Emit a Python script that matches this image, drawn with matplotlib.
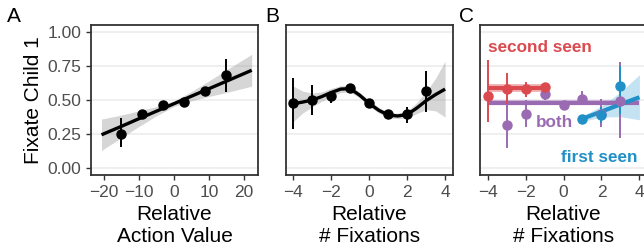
import matplotlib.pyplot as plt
import numpy as np

plt.rcParams['font.family'] = ['Liberation Sans', 'DejaVu Sans']

# A: relative action value
av_x = [-15, -9, -3, 3, 9, 15]
av_y = [0.25, 0.40, 0.465, 0.485, 0.565, 0.685]
av_lo = [0.155, 0.38, 0.45, 0.47, 0.545, 0.56]
av_hi = [0.37, 0.42, 0.48, 0.50, 0.585, 0.80]
av_fit_x = [-20.7, -15, -10, -5, 0, 5, 10, 15, 22.2]
av_fit_y = [0.245, 0.307, 0.363, 0.418, 0.473, 0.528, 0.583, 0.638, 0.718]
av_fit_lo = [0.130, 0.224, 0.306, 0.384, 0.453, 0.494, 0.526, 0.555, 0.601]
av_fit_hi = [0.360, 0.390, 0.420, 0.452, 0.493, 0.562, 0.640, 0.721, 0.835]

# B: relative number of fixations
fx_x = [-4, -3, -2, -1, 0, 1, 2, 3]
fx_y = [0.48, 0.50, 0.53, 0.586, 0.477, 0.395, 0.395, 0.564]
fx_lo = [0.29, 0.39, 0.48, 0.57, 0.465, 0.38, 0.334, 0.41]
fx_hi = [0.66, 0.61, 0.56, 0.60, 0.49, 0.41, 0.45, 0.714]
fx_fit_x = [-4, -3.5, -3, -2.5, -2, -1.5, -1, -0.5, 0, 0.5, 1, 1.5, 2, 2.5, 3, 3.5, 4]
fx_fit_y = [0.472, 0.485, 0.50, 0.525, 0.555, 0.58, 0.583, 0.535, 0.475, 0.425,
            0.39, 0.383, 0.393, 0.44, 0.495, 0.54, 0.58]
fx_fit_se = [0.13, 0.08, 0.05, 0.035, 0.03, 0.025, 0.025, 0.02, 0.02, 0.02,
             0.02, 0.02, 0.025, 0.04, 0.065, 0.12, 0.205]

# C: split by which child was seen
second_x = [-4, -3, -2, -1]
second_y = [0.53, 0.58, 0.58, 0.593]
second_lo = [0.34, 0.47, 0.525, 0.58]
second_hi = [0.79, 0.70, 0.63, 0.605]
second_fit_x = [-4, -1]
second_fit_y = [0.586, 0.586]
second_fit_se = [0.03, 0.03]

both_x = [-3, -2, -1, 0, 1, 2, 3]
both_y = [0.315, 0.395, 0.545, 0.465, 0.51, 0.395, 0.496]
both_lo = [0.145, 0.30, 0.50, 0.455, 0.46, 0.30, 0.218]
both_hi = [0.47, 0.50, 0.585, 0.475, 0.564, 0.51, 0.78]
both_fit_x = [-4, 4]
both_fit_y = [0.48, 0.48]
both_fit_se = [0.018, 0.018]

first_x = [1, 2, 3]
first_y = [0.363, 0.39, 0.60]
first_lo = [0.35, 0.33, 0.40]
first_hi = [0.375, 0.45, 0.75]
first_fit_x = [1, 2, 3, 4]
first_fit_y = [0.363, 0.415, 0.468, 0.52]
first_fit_se = [0.02, 0.04, 0.09, 0.165]

red = '#DB4A4F'
purple = '#9A6BB3'
blue = '#2190C6'
grid_c = '#EBEBEB'
dark = '#333333'

fig = plt.figure(figsize=(6.44, 2.5), dpi=100)
ax_w = 167 / 644
ax_h = 0.6
axA = fig.add_axes([91 / 644, 0.3, ax_w, ax_h])
axB = fig.add_axes([285.7 / 644, 0.3, ax_w, ax_h])
axC = fig.add_axes([480 / 644, 0.3, ax_w, ax_h])

for ax in (axA, axB, axC):
    ax.set_ylim(-0.05, 1.05)
    ax.set_yticks([0, 0.25, 0.5, 0.75, 1.0])
    for yv in [0, 0.25, 0.5, 0.75, 1.0]:
        ax.axhline(yv, color=grid_c, lw=1.1, zorder=0)
    for s in ax.spines.values():
        s.set_color(dark)
        s.set_linewidth(1.3)
    ax.tick_params(colors=dark, labelcolor='#4D4D4D', labelsize=12.5,
                   length=3.5, width=1.0)
    ax.set_xlabel('Relative\n# Fixations', fontsize=15, labelpad=4,
                  linespacing=1.2)


def draw_points(ax, x, y, lo, hi, c):
    ax.vlines(x, lo, hi, color=c, lw=1.4, zorder=4)
    ax.plot(x, y, 'o', color=c, ms=6.5, zorder=5)


def draw_fit(ax, x, y, lo, hi, c, fill, lw=2.4):
    ax.fill_between(x, lo, hi, color=fill, alpha=0.4, lw=0, zorder=2)
    ax.plot(x, y, color=c, lw=lw, zorder=3, solid_capstyle='butt')


# A
draw_fit(axA, av_fit_x, av_fit_y, av_fit_lo, av_fit_hi, 'black', '#999999')
draw_points(axA, av_x, av_y, av_lo, av_hi, 'black')
axA.set_xlim(-23.7, 24)
axA.set_xticks([-20, -10, 0, 10, 20])
axA.set_yticklabels(['0.00', '0.25', '0.50', '0.75', '1.00'])
axA.set_ylabel('Fixate Child 1', fontsize=15, labelpad=3)
axA.set_xlabel('Relative\nAction Value', fontsize=15, labelpad=4,
               linespacing=1.2)

# B
fy = np.array(fx_fit_y)
fs = np.array(fx_fit_se)
draw_fit(axB, fx_fit_x, fy, fy - fs, fy + fs, 'black', '#999999')
draw_points(axB, fx_x, fx_y, fx_lo, fx_hi, 'black')

# C
for fx_, fy_, fs_, c, fill in [
        (second_fit_x, second_fit_y, second_fit_se, red, red),
        (both_fit_x, both_fit_y, both_fit_se, purple, purple),
        (first_fit_x, first_fit_y, first_fit_se, blue, '#6BB8E0')]:
    fy_ = np.array(fy_)
    fs_ = np.array(fs_)
    draw_fit(axC, fx_, fy_, fy_ - fs_, fy_ + fs_, c, fill, lw=3.0)
draw_points(axC, both_x, both_y, both_lo, both_hi, purple)
draw_points(axC, second_x, second_y, second_lo, second_hi, red)
draw_points(axC, first_x, first_y, first_lo, first_hi, blue)
axC.text(-1.25, 0.855, 'second seen', color=red, fontsize=12.3,
         fontweight='bold', ha='center', va='baseline', zorder=6)
axC.text(-0.47, 0.302, 'both', color=purple, fontsize=12.3,
         fontweight='bold', ha='center', va='baseline', zorder=6)
axC.text(1.89, 0.048, 'first seen', color=blue, fontsize=12.3,
         fontweight='bold', ha='center', va='baseline', zorder=6)

for ax in (axB, axC):
    ax.set_xlim(-4.4, 4.4)
    ax.set_xticks([-4, -2, 0, 2, 4])
    ax.tick_params(axis='y', left=False, labelleft=False)

fig.text(7 / 644, 1 - 21.7 / 250, 'A', fontsize=15, va='baseline')
fig.text(265 / 644, 1 - 21.7 / 250, 'B', fontsize=15, va='baseline')
fig.text(459 / 644, 1 - 21.7 / 250, 'C', fontsize=15, va='baseline')

fig.savefig('out.png', dpi=100)
